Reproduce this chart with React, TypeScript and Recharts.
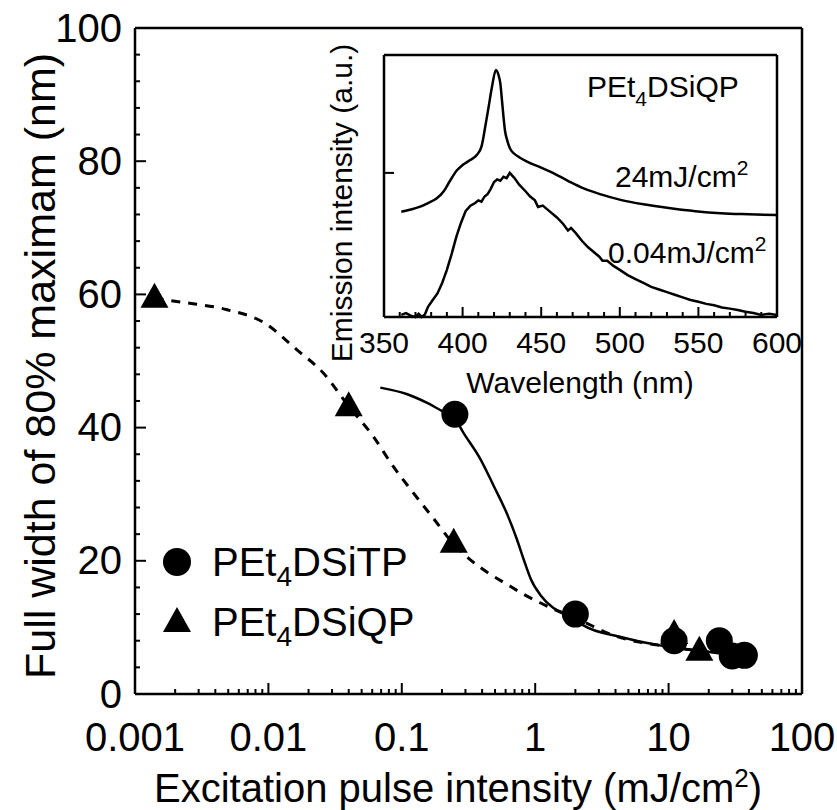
import React from "react";
import { ComposedChart, LineChart, Line, Scatter, XAxis, YAxis } from "recharts";

const FONT = "'Liberation Sans', Arial, Helvetica, sans-serif";

// main chart axes
const decades = [0.001, 0.01, 0.1, 1, 10, 100];
const decadeLabels = ["0.001", "0.01", "0.1", "1", "10", "100"];
const minorSteps = [2, 3, 4, 5, 6, 7, 8, 9];
const fwhmLabels = [0, 20, 40, 60, 80, 100];
const fwhmMinorStep = 4;

// PEt4DSiTP (circles) and PEt4DSiQP (triangles), intensity in mJ/cm2, width in nm
const tpPoints = [
  { x: 0.25, y: 42 },
  { x: 2, y: 12 },
  { x: 11, y: 8 },
  { x: 24, y: 8 },
  { x: 30, y: 5.7 },
  { x: 37, y: 5.8 },
];
const qpPoints = [
  { x: 0.0014, y: 59.5 },
  { x: 0.04, y: 43.2 },
  { x: 0.245, y: 22.7 },
  { x: 11, y: 9 },
  { x: 17, y: 6.5 },
];

// guide curves
const tpFit = [
  { x: 0.069, y: 46 },
  { x: 0.11, y: 45 },
  { x: 0.155, y: 43.7 },
  { x: 0.2, y: 42.5 },
  { x: 0.245, y: 41.6 },
  { x: 0.29, y: 39.2 },
  { x: 0.39, y: 35.2 },
  { x: 0.49, y: 31.2 },
  { x: 0.61, y: 27.2 },
  { x: 0.73, y: 23.2 },
  { x: 0.82, y: 20.2 },
  { x: 0.93, y: 17.2 },
  { x: 1.1, y: 14.8 },
  { x: 1.37, y: 12.9 },
  { x: 1.9, y: 11.6 },
  { x: 2.3, y: 10.3 },
  { x: 4.3, y: 8.6 },
  { x: 8.6, y: 7.3 },
  { x: 12, y: 6.9 },
  { x: 20, y: 6.3 },
  { x: 35, y: 5.7 },
];
const qpFit = [
  { x: 0.0014, y: 59.4 },
  { x: 0.0023, y: 58.8 },
  { x: 0.0049, y: 57.7 },
  { x: 0.0092, y: 55.8 },
  { x: 0.0163, y: 51.7 },
  { x: 0.0258, y: 48.2 },
  { x: 0.04, y: 43.2 },
  { x: 0.061, y: 38.7 },
  { x: 0.086, y: 34.2 },
  { x: 0.122, y: 30.2 },
  { x: 0.172, y: 26.4 },
  { x: 0.245, y: 22.5 },
  { x: 0.334, y: 20 },
  { x: 0.458, y: 18 },
  { x: 0.611, y: 16.5 },
  { x: 0.815, y: 15 },
  { x: 1.09, y: 13.7 },
  { x: 1.5, y: 12.4 },
  { x: 2, y: 11.4 },
  { x: 4, y: 8.7 },
  { x: 10, y: 7.1 },
  { x: 20, y: 6.3 },
];

// inset: emission spectra
const waveTicksMajor = [350, 400, 450, 500, 550, 600];
const waveMinorStep = 10;
const insetTick = [55];
const spectrumHigh = [
  { w: 361, v: 40.2 }, { w: 367, v: 41 }, { w: 373, v: 42.1 }, { w: 378, v: 43.5 },
  { w: 383.6, v: 45.3 }, { w: 388, v: 48 }, { w: 392, v: 52 }, { w: 396.4, v: 56 },
  { w: 400, v: 58 }, { w: 404.8, v: 59.9 }, { w: 409, v: 61.8 }, { w: 412, v: 65 },
  { w: 414.4, v: 72.6 }, { w: 416.5, v: 80 }, { w: 418.7, v: 87.9 }, { w: 421.2, v: 94.3 },
  { w: 423, v: 92 }, { w: 424, v: 89.2 }, { w: 425, v: 83 }, { w: 426, v: 76.5 },
  { w: 427, v: 71 }, { w: 428.3, v: 67.6 }, { w: 430, v: 64.5 }, { w: 432.5, v: 62.5 },
  { w: 436, v: 61 }, { w: 441, v: 59.3 }, { w: 450, v: 57 }, { w: 458, v: 54.8 },
  { w: 467, v: 52 }, { w: 477, v: 49.1 }, { w: 488, v: 46.8 }, { w: 500.5, v: 44.7 },
  { w: 515, v: 43 }, { w: 532.4, v: 41.5 }, { w: 548, v: 40.4 }, { w: 564.3, v: 39.6 },
  { w: 582, v: 39.2 }, { w: 600, v: 38.9 },
];
const spectrumLow = [
  { w: 361, v: 0.8 }, { w: 364, v: 1.5 }, { w: 367, v: 0.5 }, { w: 370, v: 0 },
  { w: 372, v: 1.2 }, { w: 374, v: 0 }, { w: 376, v: 1 }, { w: 378, v: 3.9 },
  { w: 381, v: 6.5 }, { w: 384, v: 9 }, { w: 387, v: 13 }, { w: 390, v: 18 },
  { w: 393, v: 24 }, { w: 396, v: 30.6 }, { w: 399, v: 36 }, { w: 402, v: 40.5 },
  { w: 405, v: 42.5 }, { w: 408, v: 43.5 }, { w: 410, v: 44.5 }, { w: 412, v: 44 },
  { w: 414, v: 46 }, { w: 416, v: 47 }, { w: 418, v: 49 }, { w: 420, v: 51.5 },
  { w: 422, v: 52.5 }, { w: 424, v: 52 }, { w: 426, v: 53.5 }, { w: 428, v: 53 },
  { w: 430, v: 55 }, { w: 433, v: 53 }, { w: 436, v: 50.5 }, { w: 440, v: 48 },
  { w: 443, v: 46 }, { w: 446, v: 44.5 }, { w: 448, v: 42 }, { w: 451, v: 42.5 },
  { w: 455, v: 40.5 }, { w: 460, v: 38 }, { w: 464, v: 35.5 }, { w: 467, v: 33 },
  { w: 469, v: 34 }, { w: 472, v: 32 }, { w: 476, v: 29 }, { w: 480, v: 26.5 },
  { w: 484, v: 24.5 }, { w: 487, v: 23 }, { w: 489, v: 21.5 }, { w: 492, v: 21.5 },
  { w: 496, v: 19.5 }, { w: 500, v: 18 }, { w: 505, v: 16 }, { w: 510, v: 14.5 },
  { w: 515, v: 13 }, { w: 520, v: 11.5 }, { w: 525, v: 10.5 }, { w: 530, v: 9.5 },
  { w: 535, v: 8.5 }, { w: 540, v: 7.5 }, { w: 545, v: 6.5 }, { w: 550, v: 5.8 },
  { w: 555, v: 5 }, { w: 560, v: 4.5 }, { w: 565, v: 3.6 }, { w: 570, v: 3.2 },
  { w: 575, v: 2.7 }, { w: 580, v: 2 }, { w: 585, v: 1.5 }, { w: 590, v: 0.8 },
  { w: 595, v: 1.2 }, { w: 600, v: 0.8 },
];

const logTicks = decades.flatMap((d, i) =>
  i === decades.length - 1 ? [d] : [d, ...minorSteps.map((m) => +(d * m).toPrecision(3))]
);
const fwhmTicks = Array.from({ length: 100 / fwhmMinorStep + 1 }, (_, i) => i * fwhmMinorStep);
const waveTicks = Array.from({ length: 250 / waveMinorStep + 1 }, (_, i) => 350 + i * waveMinorStep);

const GAP = 10;
const INK = "#000";
const AXIS = { stroke: INK, strokeWidth: 2.5 };

function LogTick({ x, y, payload }: any) {
  const idx = decades.findIndex((d) => Math.abs(d - payload.value) / d < 1e-6);
  const base = y - GAP;
  return (
    <g>
      <line x1={x} x2={x} y1={base} y2={base - (idx >= 0 ? 11 : 5)} stroke={INK} strokeWidth={2} />
      {idx >= 0 && (
        <text x={x} y={base + 57} textAnchor="middle" fontSize={40} fontFamily={FONT} fill={INK}>
          {decadeLabels[idx]}
        </text>
      )}
    </g>
  );
}

function FwhmTick({ x, y, payload }: any) {
  const base = x + GAP;
  const major = fwhmLabels.includes(payload.value);
  return (
    <g>
      <line x1={base} x2={base + (major ? 11 : 5)} y1={y} y2={y} stroke={INK} strokeWidth={2} />
      {major && (
        <text x={base - 13} y={y} dy="0.34em" textAnchor="end" fontSize={40} fontFamily={FONT} fill={INK}>
          {payload.value}
        </text>
      )}
    </g>
  );
}

function WaveTick({ x, y, payload }: any) {
  const base = y - GAP;
  const major = waveTicksMajor.includes(payload.value);
  return (
    <g>
      <line x1={x} x2={x} y1={base} y2={base - (major ? 10 : 5)} stroke={INK} strokeWidth={2} />
      {major && (
        <text x={x} y={base + 36} textAnchor="middle" fontSize={30} fontFamily={FONT} fill={INK}>
          {payload.value}
        </text>
      )}
    </g>
  );
}

function InsetYTick({ x, y }: any) {
  const base = x + GAP;
  return <line x1={base} x2={base + 10} y1={y} y2={y} stroke={INK} strokeWidth={2} />;
}

const Dot = (p: any) => <circle cx={p.cx} cy={p.cy} r={13.5} fill={INK} />;
const Tri = (p: any) => (
  <path d={`M${p.cx},${p.cy - 15}L${p.cx + 14},${p.cy + 10}L${p.cx - 14},${p.cy + 10}Z`} fill={INK} />
);

export default function App() {
  return (
    <div style={{ position: "absolute", left: 0, top: 0, width: 837, height: 810, background: "#fff" }}>
      <div style={{ position: "absolute", left: 0, top: 0 }}>
        <ComposedChart width={837} height={810} margin={{ top: 27, right: 34, bottom: 115, left: 134 }}>
          <XAxis
            dataKey="x"
            type="number"
            scale="log"
            domain={[0.001, 100]}
            ticks={logTicks}
            interval={0}
            height={1}
            tickSize={0}
            tickMargin={GAP}
            tickLine={false}
            tick={<LogTick />}
            axisLine={AXIS}
          />
          <XAxis
            xAxisId="top"
            orientation="top"
            type="number"
            scale="log"
            domain={[0.001, 100]}
            ticks={decades}
            height={1}
            tick={false}
            tickLine={false}
            axisLine={AXIS}
          />
          <YAxis
            dataKey="y"
            type="number"
            domain={[0, 100]}
            ticks={fwhmTicks}
            interval={0}
            width={1}
            tickSize={0}
            tickMargin={GAP}
            tickLine={false}
            tick={<FwhmTick />}
            axisLine={AXIS}
          />
          <YAxis
            yAxisId="right"
            orientation="right"
            type="number"
            domain={[0, 100]}
            ticks={fwhmLabels}
            width={1}
            tick={false}
            tickLine={false}
            axisLine={AXIS}
          />
          <Line
            data={qpFit}
            dataKey="y"
            type="monotone"
            stroke={INK}
            strokeWidth={3}
            strokeDasharray="9 8"
            dot={false}
            isAnimationActive={false}
          />
          <Line
            data={tpFit}
            dataKey="y"
            type="monotone"
            stroke={INK}
            strokeWidth={2.5}
            dot={false}
            isAnimationActive={false}
          />
          <Scatter data={qpPoints} dataKey="y" shape={Tri} isAnimationActive={false} />
          <Scatter data={tpPoints} dataKey="y" shape={Dot} isAnimationActive={false} />
        </ComposedChart>
      </div>

      <div style={{ position: "absolute", left: 330, top: 30 }}>
        <LineChart width={490} height={350} margin={{ top: 24, right: 42, bottom: 62, left: 53 }}>
          <XAxis
            dataKey="w"
            type="number"
            domain={[350, 600]}
            ticks={waveTicks}
            interval={0}
            height={1}
            tickSize={0}
            tickMargin={GAP}
            tickLine={false}
            tick={<WaveTick />}
            axisLine={AXIS}
          />
          <XAxis
            xAxisId="top"
            orientation="top"
            type="number"
            domain={[350, 600]}
            ticks={waveTicksMajor}
            height={1}
            tick={false}
            tickLine={false}
            axisLine={AXIS}
          />
          <YAxis
            type="number"
            domain={[0, 100]}
            ticks={insetTick}
            width={1}
            tickSize={0}
            tickMargin={GAP}
            tickLine={false}
            tick={<InsetYTick />}
            axisLine={AXIS}
          />
          <YAxis
            yAxisId="right"
            orientation="right"
            type="number"
            domain={[0, 100]}
            ticks={insetTick}
            width={1}
            tick={false}
            tickLine={false}
            axisLine={AXIS}
          />
          <Line data={spectrumHigh} dataKey="v" type="monotone" stroke={INK} strokeWidth={2.5} dot={false} isAnimationActive={false} />
          <Line data={spectrumLow} dataKey="v" type="linear" stroke={INK} strokeWidth={2.5} dot={false} isAnimationActive={false} />
        </LineChart>
      </div>

      <svg width={837} height={810} style={{ position: "absolute", left: 0, top: 0, pointerEvents: "none" }} fontFamily={FONT} fill={INK}>
        <text x={458} y={802} textAnchor="middle" fontSize={40}>
          Excitation pulse intensity (mJ/cm
          <tspan dy={-15} fontSize={26}>2</tspan>
          <tspan dy={15}>)</tspan>
        </text>
        <text transform="translate(55,366) rotate(-90)" textAnchor="middle" fontSize={43}>
          Full width of 80% maximam (nm)
        </text>

        <circle cx={177} cy={562} r={14} />
        <text x={212} y={576} fontSize={40}>
          PEt<tspan dy={10} fontSize={28}>4</tspan><tspan dy={-10}>DSiTP</tspan>
        </text>
        <path d="M177,607L191,632L163,632Z" />
        <text x={212} y={636} fontSize={40}>
          PEt<tspan dy={10} fontSize={28}>4</tspan><tspan dy={-10}>DSiQP</tspan>
        </text>

        <text x={580} y={393} textAnchor="middle" fontSize={30}>Wavelength (nm)</text>
        <text transform="translate(352,203) rotate(-90)" textAnchor="middle" fontSize={30}>
          Emission intensity (a.u.)
        </text>
        <text x={587} y={97} fontSize={30}>
          PEt<tspan dy={9} fontSize={21}>4</tspan><tspan dy={-9}>DSiQP</tspan>
        </text>
        <text x={615} y={187} fontSize={30}>
          24mJ/cm<tspan dy={-12} fontSize={21}>2</tspan>
        </text>
        <text x={608} y={263} fontSize={30}>
          0.04mJ/cm<tspan dy={-12} fontSize={21}>2</tspan>
        </text>
      </svg>
    </div>
  );
}
